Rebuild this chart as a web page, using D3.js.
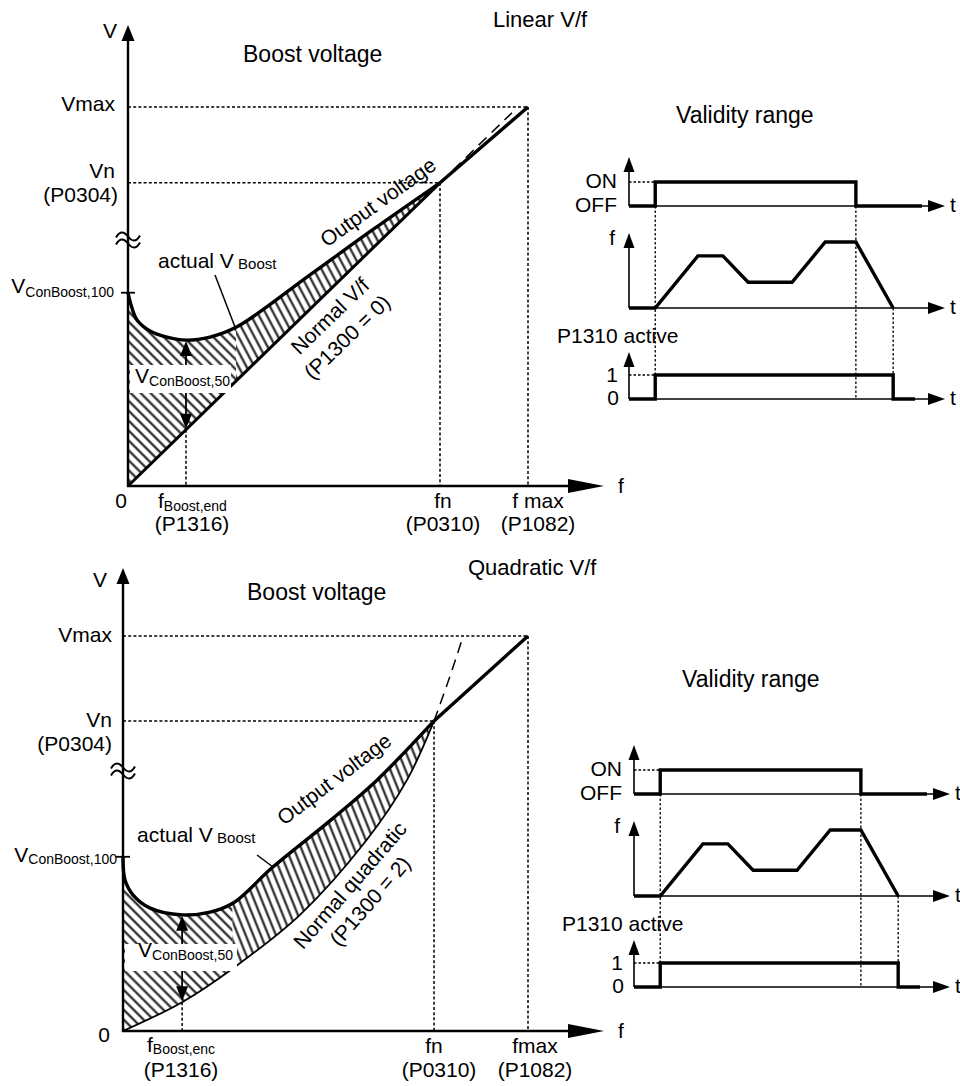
<!DOCTYPE html>
<html>
<head>
<meta charset="utf-8">
<title>Boost voltage - linear and quadratic V/f</title>
<script src="https://cdn.jsdelivr.net/npm/d3@7/dist/d3.min.js"></script>
<style>
  body { margin: 0; background: #fff; }
  svg text { font-family: "Liberation Sans", Arial, Helvetica, sans-serif; fill: #000; }
</style>
</head>
<body>
<svg id="chart" width="960" height="1086"></svg>
<script>
// f and V are in % of fmax / Vmax
const linNormal = [[0, 0], [78, 80]];
const linNormalExt = [[78, 80], [96, 98.5]];
const linBoost = [[0, 51], [0.75, 47.8], [2.25, 43.8], [5.5, 40.9], [9.75, 39.3], [14.5, 38.5],
  [20.5, 39.3], [27.25, 42], [45.5, 55.7], [61, 67.5], [78, 80]];
const linUpper = [[78, 80], [100, 100]];

const quadNormal = [[0, 0], [14.6, 7.3], [27.2, 15.9], [43.7, 29.4], [60.2, 48.4], [70.1, 63.5], [76.8, 78.5]];
const quadNormalExt = [[76.8, 78.5], [80.5, 89.1], [84, 100]];
const quadBoost = [[0, 44.1], [0.5, 38.2], [2.5, 34.4], [6.7, 31.1], [14.6, 29.4], [21.5, 30.1],
  [27.2, 32.4], [37, 41.5], [51.9, 53.9], [62.7, 63.5], [76.8, 78.5]];
const quadUpper = [[76.8, 78.5], [100, 100]];

// marked levels [Vmax, Vn, VConBoost,100] and frequencies [fBoost,end, fn, fmax]
const linV = [100, 80, 51];
const linF = [14.5, 78, 100];
const quadV = [100, 78.5, 44.1];
const quadF = [14.6, 76.8, 100];

// validity range signals, t in % of the time axis
const sigOnOff = [[0, 0], [8.3, 0], [8.3, 1], [71.8, 1], [71.8, 0], [92.7, 0]];
const sigFreq = [[0, 0], [8.3, 0], [21.8, 0.79], [29.7, 0.79], [37.7, 0.39], [51.6, 0.39], [62.1, 1], [71.8, 1], [83.6, 0]];
const sigActive = [[0, 0], [8.3, 0], [8.3, 1], [83.6, 1], [83.6, 0], [90.5, 0]];

const svg = d3.select("#chart");
const defs = svg.append("defs");

// hatch patterns
function hatch(id, angle, gap) {
  defs.append("pattern")
    .attr("id", id)
    .attr("patternUnits", "userSpaceOnUse")
    .attr("width", gap).attr("height", gap)
    .attr("patternTransform", `rotate(${angle})`)
    .append("line")
    .attr("x1", gap / 2).attr("y1", -1).attr("x2", gap / 2).attr("y2", gap + 1)
    .attr("stroke", "#1a1a1a").attr("stroke-width", 2.1);
}
hatch("hatch45", -45, 7);
hatch("hatchSteep", -28, 7);
hatch("hatchSteep2", -22, 7);

function arrow(g, x, y, dir, len, wid) {
  let pts;
  if (dir === "up") pts = [[x, y], [x - wid / 2, y + len], [x + wid / 2, y + len]];
  else if (dir === "down") pts = [[x, y], [x - wid / 2, y - len], [x + wid / 2, y - len]];
  else pts = [[x, y], [x - len, y - wid / 2], [x - len, y + wid / 2]];
  g.append("path").attr("d", "M" + pts.join("L") + "Z").attr("fill", "#000");
}

function label(g, l) {
  const t = g.append("text")
    .attr("x", l.x).attr("y", l.y)
    .attr("font-size", l.size || 21)
    .attr("text-anchor", l.a || "start");
  if (l.rot !== undefined) {
    t.attr("dy", "0.35em").attr("transform", `rotate(${l.rot},${l.x},${l.y})`);
  }
  if (l.sub) {
    t.append("tspan").text(l.t);
    t.append("tspan").attr("font-size", l.subSize || 14).attr("dy", l.subDy || 3).text(l.sub);
  } else {
    t.text(l.t);
  }
}

function valueAt(data, f) {
  const i = d3.bisector(d => d[0]).left(data, f);
  if (data[i] && data[i][0] === f) return data[i][1];
  const a = data[i - 1], b = data[i];
  return a[1] + (b[1] - a[1]) * (f - a[0]) / (b[0] - a[0]);
}

function drawVf(o) {
  const g = svg.append("g");
  const x = d3.scaleLinear([0, 100], o.xr);
  const y = d3.scaleLinear([0, 100], o.yr);
  const smooth = d3.line(d => x(d[0]), d => y(d[1])).curve(d3.curveCatmullRom.alpha(0.5));
  const [fbe, fn, fmax] = o.f;
  const [vmax, vn, vcb] = o.v;
  const x0 = x(0), y0 = y(0);

  // hatched region between actual boost curve and normal characteristic
  const region = smooth(o.boost) + smooth(o.normal.slice().reverse()).replace(/^M/, "L") + "Z";
  const xs = x(o.split);
  defs.append("clipPath").attr("id", o.id + "L")
    .append("rect").attr("x", 0).attr("y", 0).attr("width", xs).attr("height", 1086);
  defs.append("clipPath").attr("id", o.id + "R")
    .append("rect").attr("x", xs).attr("y", 0).attr("width", 960 - xs).attr("height", 1086);
  g.append("path").attr("d", region).attr("fill", "url(#hatch45)").attr("clip-path", `url(#${o.id}L)`);
  g.append("path").attr("d", region).attr("fill", `url(#${o.steep})`).attr("clip-path", `url(#${o.id}R)`);

  // dotted reference lines
  const dotted = (x1, y1, x2, y2) => g.append("line")
    .attr("x1", x1).attr("y1", y1).attr("x2", x2).attr("y2", y2)
    .attr("stroke", "#000").attr("stroke-width", 1.5).attr("stroke-dasharray", "3,2.2");
  dotted(x0, y(vmax), x(fmax), y(vmax));
  dotted(x0, y(vn), x(fn), y(vn));
  dotted(x(fn), y(vn), x(fn), y0);
  dotted(x(fmax), y(vmax), x(fmax), y0);
  const vNormBe = valueAt(o.normal, fbe);
  const vBoostBe = valueAt(o.boost, fbe);
  dotted(x(fbe), y(vNormBe), x(fbe), y0);

  // dashed continuation of the normal characteristic
  g.append("path").attr("d", smooth(o.normalExt)).attr("fill", "none")
    .attr("stroke", "#000").attr("stroke-width", 1.5).attr("stroke-dasharray", "11,7");

  // curves
  g.append("path").attr("d", smooth(o.normal)).attr("fill", "none")
    .attr("stroke", "#000").attr("stroke-width", o.normalW);
  g.append("path").attr("d", smooth(o.boost)).attr("fill", "none")
    .attr("stroke", "#000").attr("stroke-width", 3.4).attr("stroke-linejoin", "round");
  g.append("path").attr("d", smooth(o.upper)).attr("fill", "none")
    .attr("stroke", "#000").attr("stroke-width", 3.4);

  // axes
  g.append("line").attr("x1", x0).attr("y1", y0 + 1).attr("x2", x0).attr("y2", o.vTip + 10)
    .attr("stroke", "#000").attr("stroke-width", 2.4);
  arrow(g, x0, o.vTip, "up", 16, 13);
  g.append("line").attr("x1", x0 - 1).attr("y1", y0).attr("x2", o.fTip - 10).attr("y2", y0)
    .attr("stroke", "#000").attr("stroke-width", 2.4);
  arrow(g, o.fTip, y0, "right", o.fLen, 14);

  // axis break
  [-3.5, 3.5].forEach(d => {
    const yb = o.breakY + d;
    g.append("path")
      .attr("d", `M${x0 - 12},${yb + 1} C${x0 - 8},${yb - 6} ${x0 - 4},${yb - 5} ${x0},${yb} S${x0 + 8},${yb + 6} ${x0 + 12},${yb - 1}`)
      .attr("fill", "none").attr("stroke", "#000").attr("stroke-width", 2);
  });

  // VConBoost,100 tick
  g.append("line").attr("x1", x0 - 7).attr("y1", y(vcb)).attr("x2", x0 + 7).attr("y2", y(vcb))
    .attr("stroke", "#000").attr("stroke-width", 1.8);

  // VConBoost,50 double arrow with label box
  g.append("line").attr("x1", x(fbe)).attr("y1", y(vBoostBe) + 8).attr("x2", x(fbe)).attr("y2", y(vNormBe) - 8)
    .attr("stroke", "#000").attr("stroke-width", 1.8);
  g.append("rect").attr("x", o.box[0]).attr("y", o.box[1])
    .attr("width", o.box[2] - o.box[0]).attr("height", o.box[3] - o.box[1]).attr("fill", "#fff");
  arrow(g, x(fbe), y(vBoostBe) + 1, "up", 15, 12);
  arrow(g, x(fbe), y(vNormBe) - 1, "down", 15, 12);

  // leader of "actual V Boost"
  g.append("line").attr("x1", o.leader[0]).attr("y1", o.leader[1]).attr("x2", o.leader[2]).attr("y2", o.leader[3])
    .attr("stroke", "#000").attr("stroke-width", 1.5);

  o.labels.forEach(l => label(g, l));
}

drawVf({
  id: "lin", steep: "hatchSteep",
  xr: [128, 528], yr: [486, 107],
  normal: linNormal, normalExt: linNormalExt, boost: linBoost, upper: linUpper,
  v: linV, f: linF, normalW: 3,
  split: 27, vTip: 25, fTip: 604, fLen: 36, breakY: 240,
  box: [130, 365, 231, 393],
  leader: [215, 275, 235, 327],
  labels: [
    { t: "V", x: 117, y: 38, a: "end" },
    { t: "Boost voltage", x: 243, y: 62, size: 23 },
    { t: "Linear V/f", x: 493, y: 27, size: 22 },
    { t: "Vmax", x: 115, y: 110.5, a: "end" },
    { t: "Vn", x: 115, y: 178, a: "end" },
    { t: "(P0304)", x: 118, y: 202, a: "end" },
    { t: "V", sub: "ConBoost,100", x: 114, y: 293, a: "end", subDy: 4 },
    { t: "0", x: 121, y: 508, a: "middle" },
    { t: "f", sub: "Boost,end", x: 158, y: 508, subDy: 3 },
    { t: "(P1316)", x: 192, y: 531, a: "middle" },
    { t: "fn", x: 443, y: 508, a: "middle" },
    { t: "(P0310)", x: 443, y: 531, a: "middle" },
    { t: "f max", x: 538, y: 508, a: "middle" },
    { t: "(P1082)", x: 538, y: 531, a: "middle" },
    { t: "f", x: 618, y: 493 },
    { t: "actual V", sub: " Boost", x: 158, y: 268, subDy: 1, subSize: 15 },
    { t: "V", sub: "ConBoost,50", x: 135, y: 383, subDy: 3 },
    { t: "Output voltage", x: 378, y: 202, rot: -35.5, a: "middle" },
    { t: "Normal V/f", x: 330, y: 316, rot: -44, a: "middle" },
    { t: "(P1300 = 0)", x: 347, y: 337, rot: -44, a: "middle" }
  ]
});

drawVf({
  id: "quad", steep: "hatchSteep2",
  xr: [123, 528], yr: [1031, 636],
  normal: quadNormal, normalExt: quadNormalExt, boost: quadBoost, upper: quadUpper,
  v: quadV, f: quadF, normalW: 1.8,
  split: 27, vTip: 568, fTip: 604, fLen: 36, breakY: 771,
  box: [125, 944, 237, 971],
  leader: [257, 855, 273, 867],
  labels: [
    { t: "V", x: 107, y: 587, a: "end" },
    { t: "Boost voltage", x: 247, y: 600, size: 23 },
    { t: "Quadratic V/f", x: 468, y: 575, size: 22 },
    { t: "Vmax", x: 112, y: 642, a: "end" },
    { t: "Vn", x: 112, y: 727, a: "end" },
    { t: "(P0304)", x: 112, y: 751, a: "end" },
    { t: "V", sub: "ConBoost,100", x: 117, y: 862, a: "end", subDy: 2 },
    { t: "0", x: 104, y: 1042, a: "middle" },
    { t: "f", sub: "Boost,enc", x: 147, y: 1052, subDy: 2 },
    { t: "(P1316)", x: 181, y: 1077, a: "middle" },
    { t: "fn", x: 434, y: 1053, a: "middle" },
    { t: "(P0310)", x: 439, y: 1077, a: "middle" },
    { t: "fmax", x: 535, y: 1053, a: "middle" },
    { t: "(P1082)", x: 535, y: 1077, a: "middle" },
    { t: "f", x: 618, y: 1038 },
    { t: "actual V", sub: " Boost", x: 137, y: 842, subDy: 1, subSize: 15 },
    { t: "V", sub: "ConBoost,50", x: 138, y: 957, subDy: 3 },
    { t: "Output voltage", x: 334, y: 779, rot: -37, a: "middle" },
    { t: "Normal quadratic", x: 350, y: 885, rot: -49, a: "middle" },
    { t: "(P1300 = 2)", x: 370, y: 901, rot: -49, a: "middle" }
  ]
});

// validity range panels
function drawValidity(dx, dy, title) {
  svg.append("text").attr("x", title[0]).attr("y", title[1]).attr("font-size", 23).text("Validity range");
  const g = svg.append("g").attr("transform", `translate(${dx},${dy})`);
  const t = d3.scaleLinear([0, 100], [629, 945]);
  const ax = 629, tip = 945;
  const px = d => d[0] === 0 ? ax : t(d[0]);
  const panels = [
    { sig: sigOnOff, base: 206, h: 24, top: 157 },
    { sig: sigFreq, base: 308, h: 66, top: 233 },
    { sig: sigActive, base: 399, h: 24, top: 352 }
  ];
  const tOn = sigOnOff[2][0], tOff = sigOnOff[3][0], tEnd = sigActive[3][0];
  const dotted = (x1, y1, x2, y2) => g.append("line")
    .attr("x1", x1).attr("y1", y1).attr("x2", x2).attr("y2", y2)
    .attr("stroke", "#000").attr("stroke-width", 1.3).attr("stroke-dasharray", "2.5,2");

  dotted(t(tOn), panels[0].base, t(tOn), panels[2].base);
  dotted(t(tOff), panels[0].base, t(tOff), panels[2].base);
  dotted(t(tEnd), panels[1].base, t(tEnd), panels[2].base - panels[2].h);
  dotted(ax, panels[0].base - panels[0].h, t(tOn), panels[0].base - panels[0].h);
  dotted(ax, panels[2].base - panels[2].h, t(tOn), panels[2].base - panels[2].h);

  panels.forEach(p => {
    const yy = d3.scaleLinear([0, 1], [p.base, p.base - p.h]);
    g.append("line").attr("x1", ax).attr("y1", p.base).attr("x2", ax).attr("y2", p.top + 8)
      .attr("stroke", "#000").attr("stroke-width", 1.6);
    arrow(g, ax, p.top, "up", 15, 11);
    g.append("line").attr("x1", ax).attr("y1", p.base).attr("x2", tip - 8).attr("y2", p.base)
      .attr("stroke", "#000").attr("stroke-width", 1.4);
    arrow(g, tip, p.base, "right", 17, 12);
    g.append("path").attr("d", d3.line(px, d => yy(d[1]))(p.sig))
      .attr("fill", "none").attr("stroke", "#000").attr("stroke-width", 3.4)
      .attr("stroke-linejoin", "miter");
    label(g, { t: "t", x: 950, y: p.base + 6 });
  });

  [
    { t: "ON", x: 617, y: 188, a: "end" },
    { t: "OFF", x: 617, y: 212, a: "end" },
    { t: "f", x: 615, y: 245, a: "end" },
    { t: "P1310 active", x: 557, y: 343 },
    { t: "1", x: 618, y: 382, a: "end" },
    { t: "0", x: 619, y: 405, a: "end" }
  ].forEach(l => label(g, l));
}

drawValidity(0, 0, [676, 123]);
drawValidity(5, 588, [682, 687]);
</script>
</body>
</html>
